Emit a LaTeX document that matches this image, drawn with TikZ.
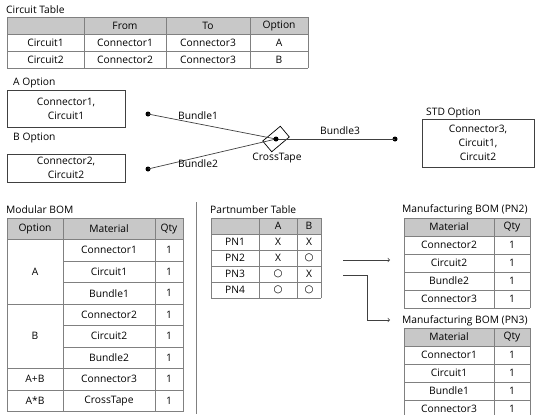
\documentclass[tikz,border=0pt]{standalone}
\usepackage{fontspec}
\setmainfont{Open Sans}
\newfontfamily\symfont{DejaVu Sans}
\usepackage{xcolor}
\usepackage{tikz}
\usetikzlibrary{calc, positioning}

\definecolor{gridgray}{RGB}{128,128,128}
\definecolor{headgray}{RGB}{200,200,200}
\definecolor{boxgray}{RGB}{64,64,64}

\begin{document}
\begin{tikzpicture}[x=1bp, y=-1bp, >=to, font=\fontsize{10.3}{14}\selectfont,
    grid/.style={draw=gridgray, line width=0.7bp},
    title/.style={anchor=west, inner sep=0pt},
    cell/.style={inner sep=0pt},
    optbox/.style={draw=boxgray, line width=0.7bp, align=center, inner sep=0pt},
    dot/.style={circle, fill=black, inner sep=0pt, minimum size=5bp},
    bundle/.style={draw=boxgray, line width=0.7bp}]
    \useasboundingbox (0,0) rectangle (537,414);
    \clip (0,0) rectangle (537,414);

    % 1. Circuit Table
    \node[title] (ctTitle) at (6,9.5) {Circuit Table};
    \fill[headgray] (7,17) rectangle (308,34);
    \foreach \y in {17,34,51,68} \draw[grid] (7,\y) -- (308,\y);
    \foreach \x in {7,84,166,250,308} \draw[grid] (\x,17) -- (\x,68);
    \foreach \h/\x in {From/125, To/208, Option/279}
        \node[cell] (ct-h-\h) at (\x,25.5) {\h};
    \foreach \ca/\cb/\cc/\cd [count=\r] in {Circuit1/Connector1/Connector3/A, Circuit2/Connector2/Connector3/B} {
        \pgfmathsetmacro{\yy}{25.5+17*\r}
        \node[cell] (ct-\r-1) at (45.5,\yy) {\ca};
        \node[cell] (ct-\r-2) at (125,\yy) {\cb};
        \node[cell] (ct-\r-3) at (208,\yy) {\cc};
        \node[cell] (ct-\r-4) at (279,\yy) {\cd};
    }

    % 2. Option boxes
    \node[title] (optATitle) at (13,83) {A Option};
    \node[optbox, minimum width=118bp, minimum height=37bp] (optA) at (66,108.5) {Connector1,\\Circuit1};
    \node[title] (optBTitle) at (13,138) {B Option};
    \node[optbox, minimum width=118bp, minimum height=28bp] (optB) at (66,168) {Connector2,\\Circuit2};
    \node[title] (optSTitle) at (426,113) {STD Option};
    \node[optbox, minimum width=112bp, minimum height=48bp] (optS) at (478,143) {Connector3,\\Circuit1,\\Circuit2};

    % 3. Bundles and CrossTape
    \node[dot] (b1) at (148,114) {};
    \node[dot] (b2) at (148,169) {};
    \node[dot] (b3) at (395,139) {};
    \node[draw=black, line width=0.7bp, minimum width=23bp, minimum height=14bp, inner sep=0pt, rotate=40] (tape) at (276,139) {};
    \draw[bundle] (b1.center) -- (tape.center);
    \draw[bundle] (b2.center) -- (tape.center);
    \draw[bundle] (tape.center) -- (b3.center);
    \node[dot] (tapeDot) at (tape.center) {};
    \node[cell] (lb1) at (198,116) {Bundle1};
    \node[cell] (lb2) at (198,164) {Bundle2};
    \node[cell] (lb3) at (340,131) {Bundle3};
    \node[cell] (lbt) at (277,158) {CrossTape};

    % 4. Modular BOM
    \node[title] (mbTitle) at (6,210) {Modular BOM};
    \fill[headgray] (7,218) rectangle (183,239.5);
    \foreach \y in {218,239.5,304,368.5,390,411.5} \draw[grid] (7,\y) -- (183,\y);
    \foreach \y in {261,282.5,325.5,347} \draw[grid] (63,\y) -- (183,\y);
    \foreach \x in {7,63,155,183} \draw[grid] (\x,218) -- (\x,411.5);
    \node[cell] (mb-h-1) at (35,228.75) {Option};
    \node[cell] (mb-h-2) at (109,228.75) {Material};
    \node[cell] (mb-h-3) at (169,228.75) {Qty};
    \foreach \m [count=\r] in {Connector1, Circuit1, Bundle1, Connector2, Circuit2, Bundle2, Connector3, CrossTape} {
        \pgfmathsetmacro{\yy}{239.5+21.5*(\r-0.5)}
        \node[cell] (mb-\r-m) at (109,\yy) {\m};
        \node[cell] (mb-\r-q) at (169,\yy) {1};
    }
    \node[cell] (mbA) at (35,271.75) {A};
    \node[cell] (mbB) at (35,336.25) {B};
    \node[cell] (mbAB) at (35,379.25) {A+B};
    \node[cell] (mbAxB) at (35,400.75) {A*B};

    % separator
    \draw[gridgray, line width=0.7bp] (196,202) -- (196,414);

    % 5. Partnumber Table
    \node[title] (pnTitle) at (210,210) {Partnumber Table};
    \fill[headgray] (211,218) rectangle (321,234);
    \foreach \y in {218,234,250,266,282,298} \draw[grid] (211,\y) -- (321,\y);
    \foreach \x in {211,259,297,321} \draw[grid] (\x,218) -- (\x,298);
    \node[cell] (pn-h-A) at (278,226) {A};
    \node[cell] (pn-h-B) at (309,226) {B};
    \foreach \p/\a/\b [count=\r] in {PN1/X/X, PN2/X/{\symfont ○}, PN3/{\symfont ○}/X, PN4/{\symfont ○}/{\symfont ○}} {
        \pgfmathsetmacro{\yy}{226+16*\r}
        \node[cell] (pn-\r) at (235,\yy) {\p};
        \node[cell] (pn-\r-A) at (278,\yy) {\a};
        \node[cell] (pn-\r-B) at (309,\yy) {\b};
    }

    % 6. Arrows to manufacturing BOMs
    \coordinate (pn2out) at (343,260);
    \coordinate (pn2in) at (390,260);
    \coordinate (pn3out) at (343,275);
    \coordinate (pn3bend) at (367,320);
    \coordinate (pn3in) at (390,320);
    \draw[->, boxgray, line width=0.7bp] (pn2out) -- (pn2in);
    \draw[->, boxgray, line width=0.7bp] (pn3out) -| (pn3bend) -- (pn3in);

    % 7. Manufacturing BOM (PN2)
    \node[title] (m2Title) at (402,210) {Manufacturing BOM (PN2)};
    \fill[headgray] (404,218) rectangle (530,236);
    \foreach \y in {218,236,254,272,290,308} \draw[grid] (404,\y) -- (530,\y);
    \foreach \x in {404,494,530} \draw[grid] (\x,218) -- (\x,308);
    \node[cell] (m2-h-1) at (449,227) {Material};
    \node[cell] (m2-h-2) at (512,227) {Qty};
    \foreach \m [count=\r] in {Connector2, Circuit2, Bundle2, Connector3} {
        \pgfmathsetmacro{\yy}{227+18*\r}
        \node[cell] (m2-\r-m) at (449,\yy) {\m};
        \node[cell] (m2-\r-q) at (512,\yy) {1};
    }

    % 8. Manufacturing BOM (PN3)
    \node[title] (m3Title) at (402,321) {Manufacturing BOM (PN3)};
    \fill[headgray] (404,328) rectangle (530,346);
    \foreach \y in {328,346,364,382,400,418} \draw[grid] (404,\y) -- (530,\y);
    \foreach \x in {404,494,530} \draw[grid] (\x,328) -- (\x,418);
    \node[cell] (m3-h-1) at (449,337) {Material};
    \node[cell] (m3-h-2) at (512,337) {Qty};
    \foreach \m [count=\r] in {Connector1, Circuit1, Bundle1, Connector3} {
        \pgfmathsetmacro{\yy}{337+18*\r}
        \node[cell] (m3-\r-m) at (449,\yy) {\m};
        \node[cell] (m3-\r-q) at (512,\yy) {1};
    }
\end{tikzpicture}
\end{document}
